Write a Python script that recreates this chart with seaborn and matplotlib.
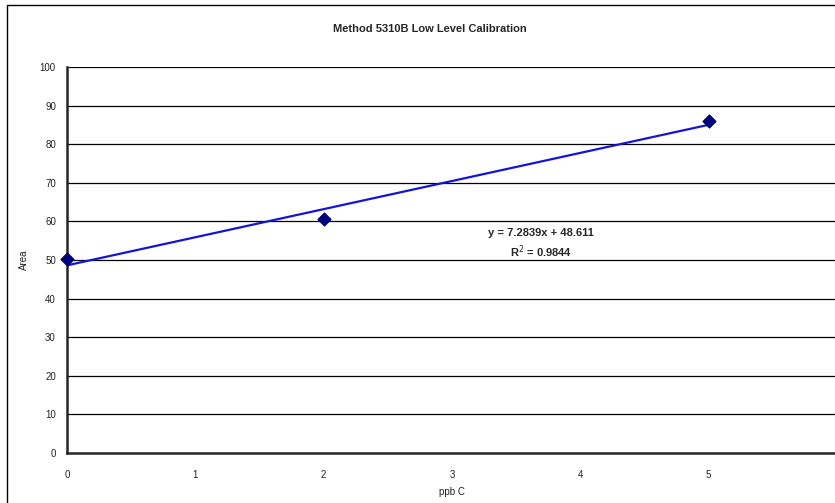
import matplotlib
matplotlib.use("Agg")
import matplotlib.pyplot as plt
import numpy as np
import pandas as pd
import seaborn as sns

# calibration points
ppb = [0, 2, 5]
area = [50.2, 60.53, 86.09]
fit_text = "y = 7.2839x + 48.611"
r2_text = "R$^2$ = 0.9844"

sns.set_style("white")
plt.rcParams["font.family"] = ["Liberation Sans", "DejaVu Sans"]

df = pd.DataFrame({"ppb C": ppb, "Area": area})

fig = plt.figure(figsize=(8.35, 5.03), dpi=100)
# outer chart frame (cut at right/bottom like the screenshot)
fig.patches.append(plt.Rectangle((7 / 835, -0.05), 1.1, 1 - 5 / 503 + 0.05,
                                 transform=fig.transFigure, fill=False,
                                 edgecolor="black", linewidth=1.0))
ax = fig.add_axes([67 / 835, 1 - 453 / 503, 770 / 835, 386 / 503])

sns.regplot(data=df, x="ppb C", y="Area", ax=ax, ci=None, marker="D",
            scatter_kws={"color": "#000080", "edgecolors": "#000070", "s": 42,
                         "zorder": 4, "clip_on": False, "alpha": 1},
            line_kws={"color": "#1414D8", "linewidth": 1.6, "zorder": 3})

ax.set_xlim(0, 6)
ax.set_ylim(0, 100)
ax.set_xticks(range(0, 7))
ax.set_yticks(range(0, 101, 10))
ax.yaxis.grid(True, color="black", linewidth=0.9)
ax.set_axisbelow(True)
for s in ["top", "right"]:
    ax.spines[s].set_visible(False)
ax.spines["left"].set_linewidth(1.8)
ax.spines["bottom"].set_linewidth(1.8)
ax.tick_params(axis="both", direction="out", length=4, width=1.2,
               labelsize=7, pad=4, colors="black", labelcolor="#222222")
ax.tick_params(axis="x", pad=8)

ax.set_xlabel("ppb C", fontsize=7, labelpad=5, color="#222222")
ax.set_ylabel("Area", fontsize=7, labelpad=8, color="#222222")
fig.text(0.5 * (67 + 835) / 835 - 0.025, 1 - 29 / 503, "Method 5310B Low Level Calibration",
         ha="center", va="center", fontsize=8, fontweight="bold")

ax.text(3.69, 57.0, fit_text, ha="center", va="center", fontsize=8, fontweight="bold")
ax.text(3.69, 52.1, r2_text, ha="center", va="center", fontsize=8, fontweight="bold")

fig.savefig("out.png", dpi=100)
